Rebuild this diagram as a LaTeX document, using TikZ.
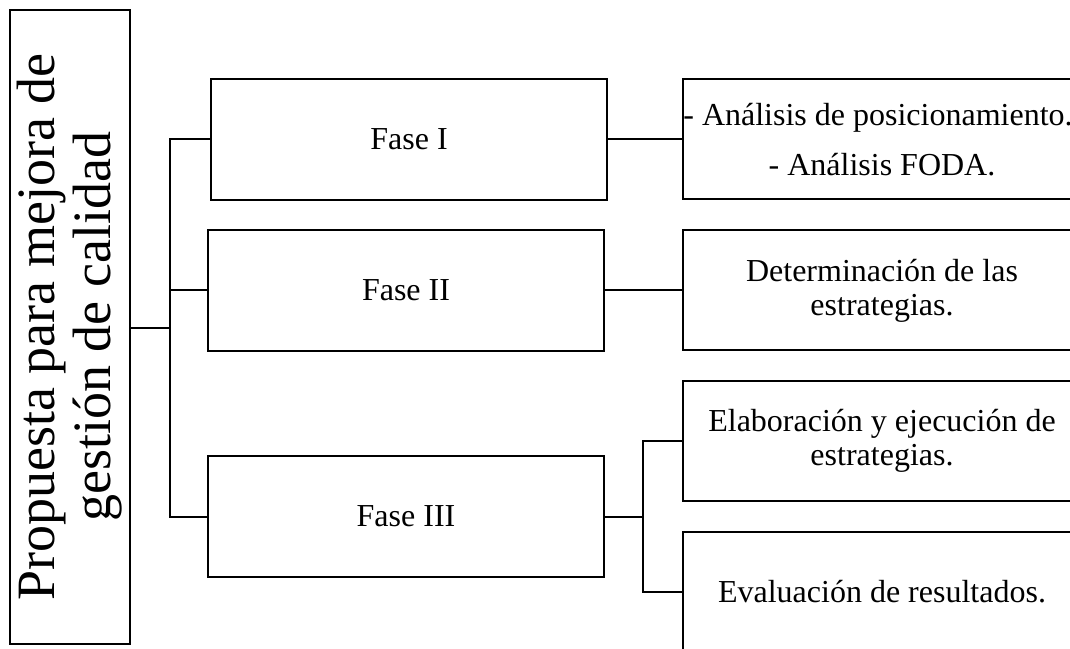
\documentclass[tikz,border=0pt]{standalone}
\usepackage{fontspec}
\setmainfont{Liberation Serif}
\usetikzlibrary{positioning}
\tikzset{
    frame/.style={rectangle, draw=black, line width=2pt, inner sep=0pt, align=center, font=\fontsize{32}{34}\selectfont},
    phase/.style={frame, minimum width=396pt, minimum height=121pt},
    task/.style={frame, minimum width=398pt, minimum height=120pt},
    title/.style={frame, rotate=90, minimum width=634pt, minimum height=120pt, font=\fontsize{54}{56}\selectfont},
    link/.style={line width=2pt}
}
\begin{document}
\begin{tikzpicture}[x=1pt, y=1pt]
    \useasboundingbox (0,0) rectangle (1070,648);
    \node [title] (prop) at (69.5,321) {Propuesta para mejora de\\gestión de calidad};
    \node [phase] (f1) at (409,508.5) {Fase I};
    \node [phase] (f2) at (406,357.5) {Fase II};
    \node [phase] (f3) at (406,131.5) {Fase III};
    \node [task, right=74pt of f1] (r1) {- Análisis de posicionamiento.\hspace*{8pt}\\[16pt]- Análisis FODA.};
    \node [task, right=77pt of f2] (r2) {Determinación de las\\estrategias.};
    \node [task] (r3) at (882,207) {Elaboración y ejecución de\\estrategias.};
    \node [task, below=29pt of r3] (r4) {Evaluación de resultados.};
    \coordinate (trunk) at (170,320);
    \coordinate (split) at (643,131.5);

    \draw [link] (trunk -| prop.south) -- (trunk);
    \draw [link] (f1.west) -| (trunk) |- (f3.west);
    \draw [link] (f2.west) -| (trunk);
    \draw [link] (f1) -- (r1);
    \draw [link] (f2) -- (r2);
    \draw [link] (f3.east) -- (split);
    \draw [link] (r3.west) -| (split) |- (r4.west);
\end{tikzpicture}
\end{document}
